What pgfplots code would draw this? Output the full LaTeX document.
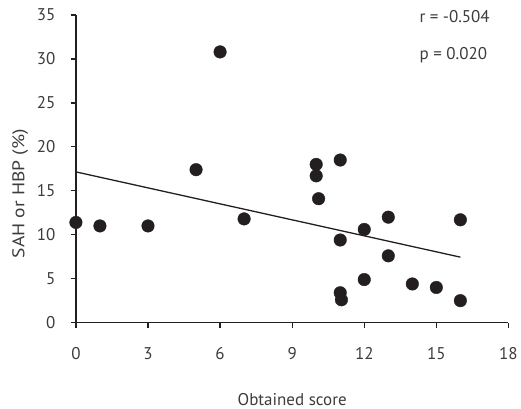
\documentclass[border=0pt]{standalone}
\usepackage{pgfplots}
\pgfplotsset{compat=1.18}
\usepackage{fontspec}
\setmainfont{PT Sans}
\definecolor{ink}{HTML}{231F20}
\definecolor{txt}{HTML}{3C3C3C}

\begin{document}
\begin{tikzpicture}
\begin{axis}[
  scale only axis,
  width=433bp, height=308bp,
  xmin=0, xmax=18, ymin=0, ymax=35,
  axis x line*=bottom, axis y line*=left,
  xtick={0,3,...,18}, ytick={0,5,...,35},
  tick align=outside,
  major tick length=5bp,
  axis line style={line width=1.6bp, color=ink},
  every tick/.style={line width=1.3bp, color=ink},
  /pgf/number format/assume math mode=true,
  tick label style={font=\fontsize{17bp}{20bp}\selectfont, text=txt},
  xticklabel style={yshift=-16bp},
  yticklabel style={xshift=-12bp},
  xlabel={Obtained score},
  ylabel={\scalebox{1.15}[1]{SAH or HBP (\%)}},
  label style={font=\fontsize{17bp}{20bp}\selectfont, text=txt},
  xlabel style={yshift=-27bp},
  ylabel style={yshift=2bp, xshift=-25bp},
  clip=false,
]
% overall picture frame
\path (rel axis cs:-0.1755,-0.2792) rectangle (rel axis cs:1.0277,1.0487);

% observations
\addplot[only marks, mark=*, mark size=6.3bp, color=ink] table {
x      y
0      11.4
1      11.0
3      11.0
5      17.4
6      30.8
7      11.8
10     18.0
10     16.7
10.1   14.1
11     18.5
11     9.4
11     3.4
11.05  2.6
12     10.6
12     4.9
13     12.0
13     7.6
14     4.4
15     4.0
16     11.7
16     2.5
};

% fitted regression line
\addplot[line width=1.3bp, color=ink] coordinates {(0,17.15) (16,7.45)};

\node[anchor=west, font=\fontsize{17bp}{20bp}\selectfont, text=txt, inner sep=0pt]
  at (rel axis cs:0.794,0.9935) {r = -0.504};
\node[anchor=west, font=\fontsize{17bp}{20bp}\selectfont, text=txt, inner sep=0pt]
  at (rel axis cs:0.794,0.870) {p = 0.020};
\end{axis}
\end{tikzpicture}
\end{document}
